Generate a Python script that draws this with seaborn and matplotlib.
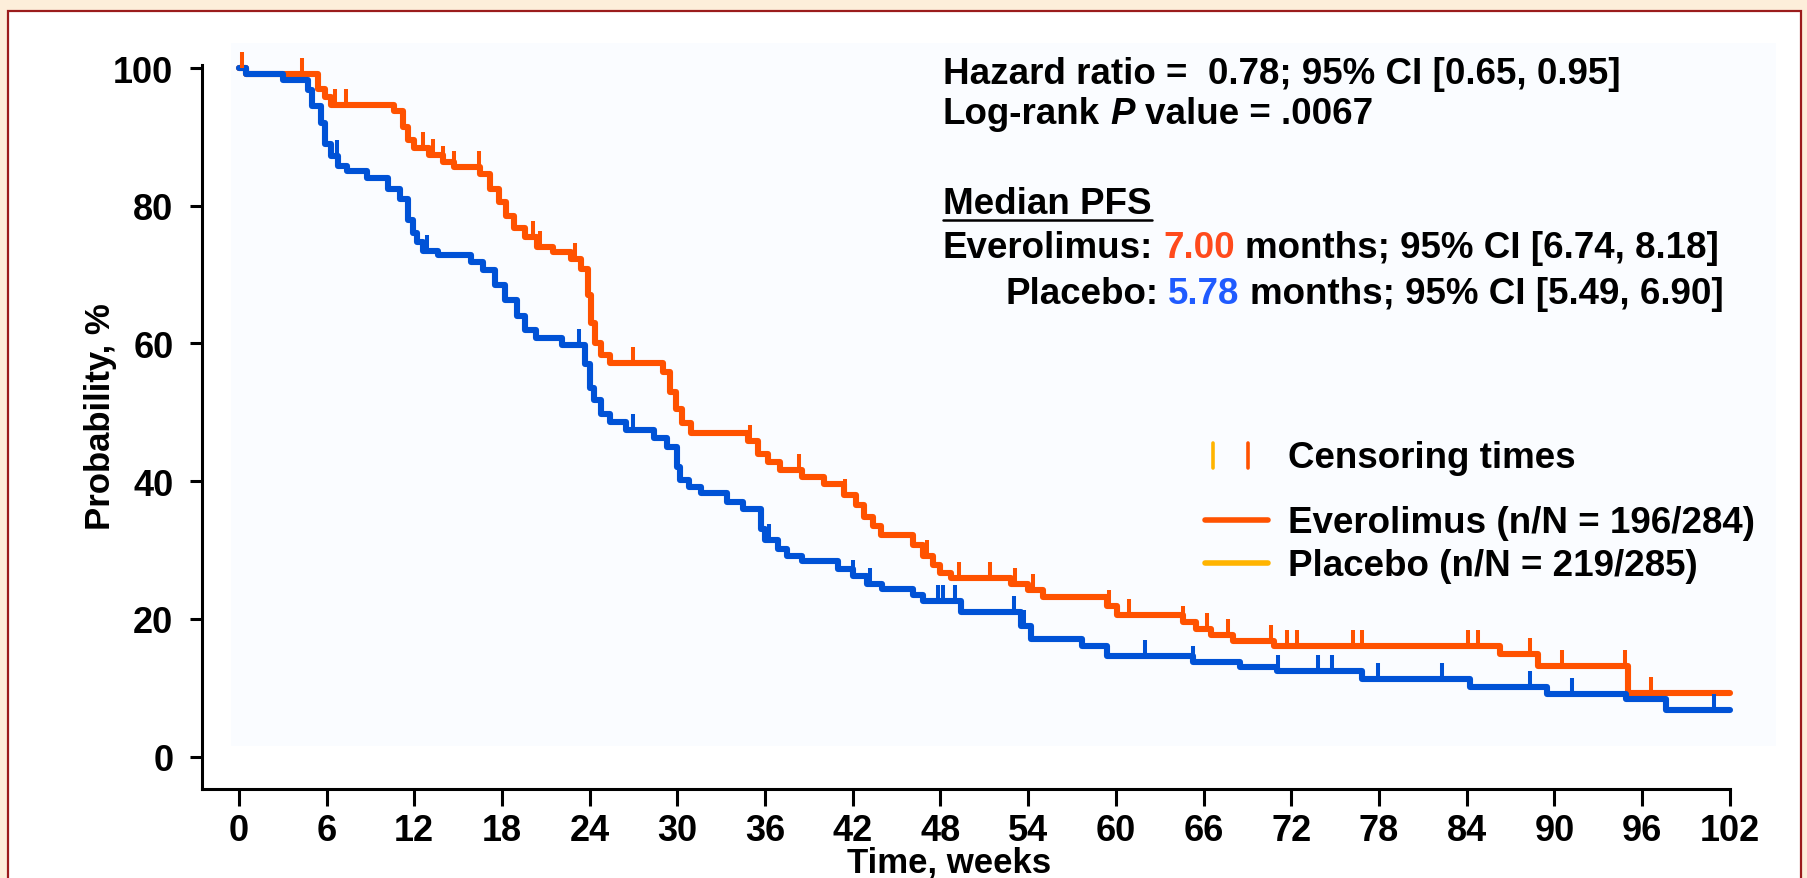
import numpy as np
import pandas as pd
import matplotlib
matplotlib.use("Agg")
import matplotlib.pyplot as plt
from matplotlib.path import Path
from matplotlib.patches import Rectangle
from matplotlib.lines import Line2D
import seaborn as sns

# Kaplan-Meier progression-free survival, step points (week, % progression-free)
evero_weeks = [0, 0.5, 5.4, 5.9, 6.3, 10.6, 11.2, 11.6, 12.0, 13.0, 14.0, 14.7, 16.5,
               17.2, 17.8, 18.3, 18.8, 19.6, 20.4, 21.5, 22.7, 23.4, 23.9, 24.1, 24.4,
               24.8, 25.4, 29.0, 29.5, 29.9, 30.3, 30.9, 34.8, 35.5, 36.2, 37.0, 38.5,
               40.0, 41.4, 42.2, 42.8, 43.4, 43.9, 46.1, 46.8, 47.5, 48.0, 48.7, 52.8,
               54.0, 55.0, 59.4, 60.1, 64.6, 65.5, 66.5, 68.0, 70.8, 86.3, 88.9, 95.0, 102]
evero_pct = [100, 99.2, 97.0, 95.8, 94.6, 93.8, 91.5, 89.5, 88.4, 87.3, 86.4, 85.6, 84.6,
             82.5, 80.5, 78.5, 76.8, 75.5, 74.0, 73.3, 72.2, 70.8, 67.0, 63.0, 60.0,
             58.3, 57.2, 55.8, 53.0, 50.5, 48.5, 47.0, 45.8, 44.0, 42.8, 41.6, 40.6,
             39.6, 38.0, 36.5, 34.8, 33.5, 32.2, 30.8, 29.2, 27.8, 26.6, 26.0, 25.0,
             24.2, 23.2, 21.8, 20.6, 19.6, 18.6, 17.6, 16.8, 16.0, 14.9, 13.2, 9.3, 9.3]

placebo_weeks = [0, 0.5, 3.0, 4.7, 5.0, 5.6, 5.9, 6.3, 6.8, 7.4, 8.8, 10.2, 11.0, 11.6,
                 11.9, 12.2, 12.6, 13.6, 15.9, 16.7, 17.5, 18.2, 19.0, 19.6, 20.3, 22.1,
                 23.7, 24.0, 24.3, 24.8, 25.4, 26.5, 28.4, 29.3, 30.0, 30.2, 30.8, 31.6,
                 33.4, 34.5, 35.7, 36.0, 36.9, 37.5, 38.5, 41.0, 42.0, 43.0, 44.0, 46.1,
                 46.8, 49.4, 53.5, 54.2, 57.7, 59.4, 65.3, 68.5, 71.0, 76.8, 84.2, 89.5,
                 94.9, 97.6, 102]
placebo_pct = [100, 99.1, 98.2, 96.8, 94.5, 92.0, 89.0, 87.2, 85.8, 85.1, 84.1, 82.4, 81.0,
               78.0, 76.0, 74.7, 73.5, 72.9, 71.8, 70.6, 68.5, 66.3, 64.0, 62.0, 60.8,
               59.8, 57.0, 53.5, 51.8, 49.8, 48.6, 47.5, 46.3, 45.0, 42.0, 40.2, 39.2,
               38.3, 37.0, 36.0, 33.0, 31.5, 30.2, 29.2, 28.4, 27.2, 26.3, 25.0, 24.3,
               23.5, 22.6, 21.0, 19.0, 17.1, 16.1, 14.6, 13.7, 13.0, 12.4, 11.3, 10.1,
               9.1, 8.3, 6.8, 6.8]

# Censoring times (weeks)
evero_censor_weeks = [0.2, 4.3, 5.4, 6.6, 7.3, 12.6, 13.3, 14.0, 14.7, 16.4, 20.1, 20.6,
                      23.0, 27.0, 35.0, 38.3, 41.5, 47.1, 49.3, 51.4, 53.1, 54.3, 59.5,
                      60.9, 64.6, 66.2, 67.7, 70.6, 71.7, 72.4, 76.2, 76.8, 84.1, 84.8,
                      88.3, 90.5, 94.8, 96.6]
placebo_censor_weeks = [6.7, 12.9, 23.3, 27.0, 36.3, 42.0, 43.2, 47.8, 48.2, 49.0, 53.0,
                        53.7, 62.0, 65.3, 71.1, 73.8, 74.8, 77.9, 82.3, 88.3, 91.2, 100.9]

x_ticks = list(range(0, 103, 6))
y_ticks = [0, 20, 40, 60, 80, 100]

ORANGE = "#FF5200"
BLUE = "#0052D6"
AMBER = "#FFB400"
NUM_RED = "#FF4A1C"
NUM_BLUE = "#1F5BFF"

sns.set_theme(style="ticks")
plt.rcParams["font.family"] = ["Liberation Sans", "DejaVu Sans"]
plt.rcParams["font.weight"] = "bold"
plt.rcParams["axes.labelweight"] = "bold"

W, H = 1808, 879
fig = plt.figure(figsize=(W / 100, H / 100), dpi=100)
fig.patch.set_facecolor("#FDEEDA")


def fx(px):
    return px / W


def fy(py):
    return 1 - py / H


# white card with a dark red border, and the faint plotting panel
fig.patches.append(Rectangle((fx(8), fy(950)), fx(1801) - fx(8), fy(11.5) - fy(950),
                             transform=fig.transFigure, facecolor="white",
                             edgecolor="#9B1C1C", linewidth=1.6, zorder=-2))
fig.patches.append(Rectangle((fx(231), fy(747)), fx(1776) - fx(231), fy(44) - fy(747),
                             transform=fig.transFigure, facecolor="#FAFCFF",
                             edgecolor="none", zorder=-1))

ax = fig.add_axes([0.1117, 0.1013, 0.8451, 0.8319])
ax.set_facecolor("none")

km = pd.DataFrame({
    "week": evero_weeks + placebo_weeks,
    "pct": evero_pct + placebo_pct,
    "arm": ["Everolimus"] * len(evero_weeks) + ["Placebo"] * len(placebo_weeks),
})
sns.lineplot(data=km, x="week", y="pct", hue="arm", hue_order=["Everolimus", "Placebo"],
             palette={"Everolimus": ORANGE, "Placebo": BLUE}, estimator=None, sort=False,
             drawstyle="steps-post", linewidth=4.4, legend=False, ax=ax, clip_on=False)


def km_value(weeks, pct, t):
    i = np.searchsorted(np.asarray(weeks), t, side="right") - 1
    return pct[i]


# censoring ticks rise from the curve
tick_marker = Path([(0, 0), (0, 1)])
for weeks, pct, cens, color in [(evero_weeks, evero_pct, evero_censor_weeks, ORANGE),
                                (placebo_weeks, placebo_pct, placebo_censor_weeks, BLUE)]:
    ys = [km_value(weeks, pct, t) for t in cens]
    ax.plot(cens, ys, linestyle="none", marker=tick_marker, markersize=23,
            markeredgewidth=2.9, color=color, clip_on=False)

ax.set_xlim(-2.52, 102)
ax.set_ylim(-4.7, 101.5)
ax.set_xticks(x_ticks)
ax.set_yticks(y_ticks)
for side in ["top", "right"]:
    ax.spines[side].set_visible(False)
for side in ["left", "bottom"]:
    ax.spines[side].set_linewidth(2.2)
    ax.spines[side].set_color("black")
ax.spines["left"].set_bounds(-4.7, 100.4)
ax.tick_params(axis="y", length=8.5, width=2.2, pad=12, labelsize=26, colors="black")
ax.tick_params(axis="x", length=12, width=2.2, pad=5, labelsize=26, colors="black")

ax.set_xlabel("Time, weeks", fontsize=25, fontweight="bold", color="black")
ax.set_ylabel("Probability, %", fontsize=25, fontweight="bold", color="black")
ax.xaxis.set_label_coords(0.489, -0.078)
ax.yaxis.set_label_coords(-0.0556, 0.51)

TXT = dict(fontsize=26.5, fontweight="bold", va="center", ha="left", color="black")

fig.text(fx(943), fy(74), "Hazard ratio =  0.78; 95% CI [0.65, 0.95]", **TXT)

fig.canvas.draw()
renderer = fig.canvas.get_renderer()
SPACE = 10.2  # width of a space at this size, pixels


def write_pieces(px, py, pieces):
    x = px
    for text, style, gap in pieces:
        x += gap * SPACE
        t = fig.text(fx(x), fy(py), text, **{**TXT, **style})
        bb = t.get_window_extent(renderer)
        x = bb.x1
    return x


write_pieces(943, 115, [("Log-rank", {}, 0), ("P", {"style": "italic"}, 1),
                        ("value = .0067", {}, 1)])

median = fig.text(fx(943), fy(205), "Median PFS", **TXT)
mb = median.get_window_extent(renderer)
fig.add_artist(Line2D([fx(mb.x0), fx(mb.x1)], [fy(221), fy(221)], color="black", lw=1.8))

write_pieces(943, 249, [("Everolimus:", {}, 0), ("7.00", {"color": NUM_RED}, 1),
                        ("months; 95% CI [6.74, 8.18]", {}, 1)])
write_pieces(1005, 294, [("Placebo:", {}, 0), ("5.78", {"color": NUM_BLUE}, 1),
                         ("months; 95% CI [5.49, 6.90]", {}, 1)])

# key
fig.add_artist(Line2D([fx(1213)] * 2, [fy(444), fy(469)], color=AMBER, lw=2.6))
fig.add_artist(Line2D([fx(1248)] * 2, [fy(444), fy(469)], color=ORANGE, lw=2.6))
fig.text(fx(1288), fy(458), "Censoring times", **TXT)
fig.add_artist(Line2D([fx(1205), fx(1268)], [fy(521)] * 2, color=ORANGE, lw=4))
fig.text(fx(1288), fy(524), "Everolimus (n/N = 196/284)", **TXT)
fig.add_artist(Line2D([fx(1205), fx(1268)], [fy(564)] * 2, color=AMBER, lw=4))
fig.text(fx(1288), fy(567), "Placebo (n/N = 219/285)", **TXT)

fig.savefig("out.png", dpi=100, facecolor=fig.get_facecolor())
